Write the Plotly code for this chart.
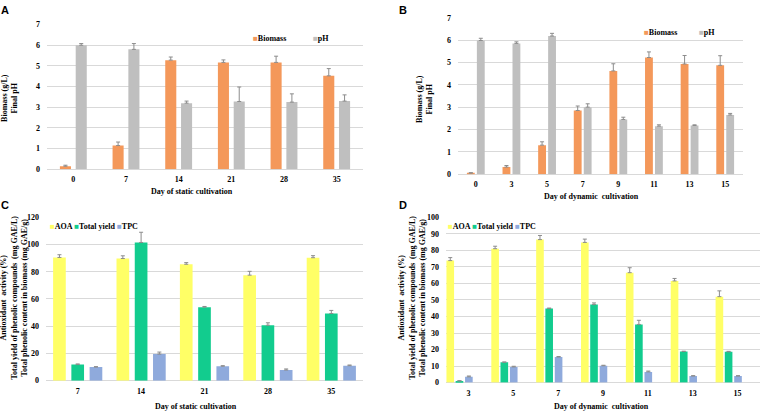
import plotly.graph_objects as go

# ---------------- data ----------------
days_a = ["0", "7", "14", "21", "28", "35"]
biomass_a = [0.15, 1.15, 5.28, 5.17, 5.17, 4.52]
biomass_a_err = [0.05, 0.17, 0.15, 0.12, 0.30, 0.35]
ph_a = [6.0, 5.8, 3.2, 3.28, 3.25, 3.3]
ph_a_err = [0.08, 0.28, 0.10, 0.70, 0.40, 0.30]

days_b = ["0", "3", "5", "7", "9", "11", "13", "15"]
biomass_b = [0.05, 0.32, 1.3, 2.85, 4.62, 5.22, 4.93, 4.87]
biomass_b_err = [0.02, 0.07, 0.15, 0.20, 0.32, 0.25, 0.38, 0.43]
ph_b = [5.98, 5.85, 6.18, 3.0, 2.45, 2.15, 2.18, 2.65]
ph_b_err = [0.10, 0.07, 0.12, 0.15, 0.10, 0.06, 0.03, 0.07]

days_c = ["7", "14", "21", "28", "35"]
aoa_c = [90.5, 89.7, 85.5, 77.5, 90.3]
aoa_c_err = [2.0, 2.0, 1.2, 2.8, 1.5]
yield_c = [11.8, 101.5, 54.0, 40.7, 49.3]
yield_c_err = [0.5, 7.5, 0.5, 1.8, 2.3]
tpc_c = [10.0, 19.5, 10.6, 7.8, 11.0]
tpc_c_err = [0.3, 1.5, 0.4, 0.8, 0.5]

days_d = ["3", "5", "7", "9", "11", "13", "15"]
aoa_d = [73.8, 81.0, 86.5, 84.8, 66.5, 61.5, 52.0]
aoa_d_err = [1.8, 1.5, 2.5, 2.0, 3.0, 1.5, 3.5]
yield_d = [1.0, 12.3, 44.8, 47.2, 35.2, 18.8, 18.6]
yield_d_err = [0.2, 0.2, 0.3, 1.0, 2.5, 0.2, 0.3]
tpc_d = [3.5, 9.5, 15.5, 10.2, 6.5, 4.0, 4.0]
tpc_d_err = [0.5, 0.4, 0.3, 0.3, 0.5, 0.2, 0.2]

# ---------------- style ----------------
ORANGE = "#F4985A"
GREY = "#BFBFBF"
YELLOW = "#FFFF66"
GREEN = "#12CC8E"
BLUE = "#8FAADC"
ERR = "#8C8C8C"
SERIF = "Liberation Serif"
SANS = "Liberation Sans"

W, H = 762, 416


def px(x):
    return x / W


def py(y):
    return 1 - y / H


fig = go.Figure()


def add_bar(xs, ys, errs, color, name, xa, ya, width, offset):
    fig.add_trace(go.Bar(
        x=xs, y=ys, name=name, marker=dict(color=color, line=dict(width=0)),
        width=width, offset=offset,
        error_y=dict(type="data", array=errs, arrayminus=[0] * len(errs),
                     symmetric=False, color=ERR, thickness=1, width=2),
        xaxis=xa, yaxis=ya, showlegend=False,
    ))


# Panel A
add_bar(days_a, biomass_a, biomass_a_err, ORANGE, "Biomass", "x", "y", 0.21, -0.255)
add_bar(days_a, ph_a, ph_a_err, GREY, "pH", "x", "y", 0.21, 0.045)
# Panel B
add_bar(days_b, biomass_b, biomass_b_err, ORANGE, "Biomass", "x2", "y2", 0.22, -0.25)
add_bar(days_b, ph_b, ph_b_err, GREY, "pH", "x2", "y2", 0.22, 0.03)
# Panel C
add_bar(days_c, aoa_c, aoa_c_err, YELLOW, "AOA", "x3", "y3", 0.2, -0.388)
add_bar(days_c, yield_c, yield_c_err, GREEN, "Total yield", "x3", "y3", 0.2, -0.1)
add_bar(days_c, tpc_c, tpc_c_err, BLUE, "TPC", "x3", "y3", 0.2, 0.188)
# Panel D
add_bar(days_d, aoa_d, aoa_d_err, YELLOW, "AOA", "x4", "y4", 0.17, -0.49)
add_bar(days_d, yield_d, yield_d_err, GREEN, "Total yield", "x4", "y4", 0.17, -0.285)
add_bar(days_d, tpc_d, tpc_d_err, BLUE, "TPC", "x4", "y4", 0.17, -0.075)

tickfont = dict(family=SERIF, size=8, color="#000000", weight="bold")


def xaxis(dom, anchor):
    return dict(domain=dom, anchor=anchor, type="category", showgrid=False,
                showline=False, zeroline=False, ticks="", tickfont=tickfont,
                ticklabelstandoff=4, fixedrange=True)


def yaxis(dom, anchor, rng, dtick):
    return dict(domain=dom, anchor=anchor, range=rng, dtick=dtick,
                showgrid=True, gridcolor="#D9D9D9", gridwidth=1,
                zeroline=True, zerolinecolor="#D9D9D9", zerolinewidth=1,
                showline=False, ticks="", tickfont=tickfont,
                ticklabelstandoff=6, fixedrange=True)


fig.update_layout(
    width=W, height=H,
    margin=dict(l=0, r=0, t=0, b=0),
    paper_bgcolor="white", plot_bgcolor="white",
    barmode="overlay",
    xaxis=xaxis([px(47), px(363)], "y"),
    yaxis=yaxis([py(169), py(21)], "x", [0, 7], 1),
    xaxis2=xaxis([px(458), px(743)], "y2"),
    yaxis2=yaxis([py(174), py(14)], "x2", [0, 7], 1),
    xaxis3=xaxis([px(46), px(363)], "y3"),
    yaxis3=yaxis([py(385), py(218)], "x3", [0, 120], 20),
    xaxis4=xaxis([px(446), px(760)], "y4"),
    yaxis4=yaxis([py(387), py(218)], "x4", [0, 100], 10),
)

ann = []


def text(x, y, t, size=8, family=SERIF, angle=0, xanchor="center", color="#000000", bold=True):
    ann.append(dict(x=px(x), y=py(y), xref="paper", yref="paper", text=t,
                    showarrow=False, textangle=angle, xanchor=xanchor, yanchor="middle",
                    font=dict(family=family, size=size, color=color,
                              weight="bold" if bold else "normal"),
                    align="center"))


# panel letters
text(5, 6, "A", size=11, family=SANS)
text(403, 6, "B", size=11, family=SANS)
text(5, 205, "C", size=11, family=SANS)
text(403, 205, "D", size=11, family=SANS)

# x-axis titles
text(192, 192, "Day of static cultivation")
text(591, 197, "Day of dynamic  cultivation")
text(196, 411, "Day of static cultivation")
text(601, 411, "Day of dynamic  cultivation")

# y-axis titles
text(10, 96, "Biomass (g/L)<br>Final pH", angle=-90)
text(425, 97, "Biomass (g/L)<br>Final pH", angle=-90)
ytitle_cd = ("Antioxidant  activity (%)<br>Total yield of phenolic compounds  (mg GAE/L)"
             "<br>Total phenolic content in biomass (mg GAE/g)")
text(14, 300, ytitle_cd, angle=-90)
text(412, 300, ytitle_cd, angle=-90)


def sq(c):
    return f'<span style="color:{c}">■</span>'


# legends
text(251, 35, sq(ORANGE) + "Biomass", xanchor="left")
text(311, 35, sq(GREY) + "pH", xanchor="left")
text(642, 29, sq(ORANGE) + "Biomass", xanchor="left")
text(697, 29, sq(GREY) + "pH", xanchor="left")
text(48, 227, sq(YELLOW) + "AOA " + sq(GREEN) + "Total yield " + sq(BLUE) + "TPC", xanchor="left")
text(446, 227, sq(YELLOW) + "AOA " + sq(GREEN) + "Total yield " + sq(BLUE) + "TPC", xanchor="left")

fig.update_layout(annotations=ann)
fig.write_html("out.html")
